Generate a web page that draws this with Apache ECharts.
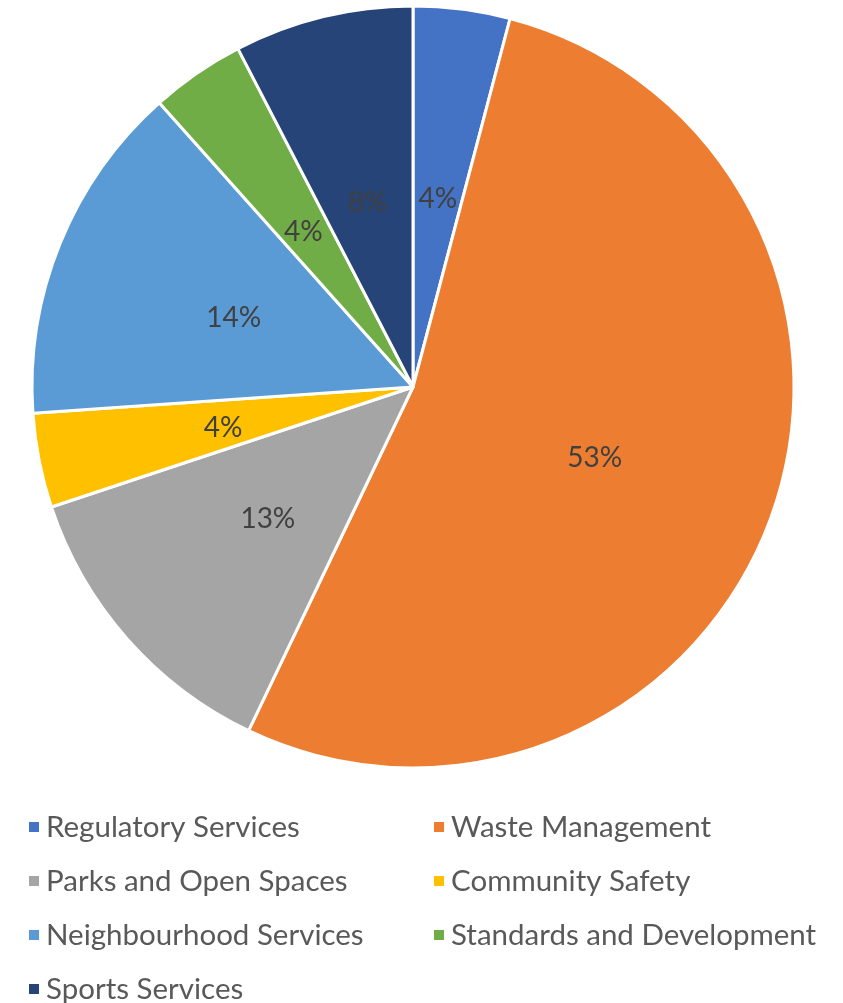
<!DOCTYPE html>
<html>
<head>
<meta charset="utf-8">
<script src="https://cdn.jsdelivr.net/npm/echarts@6/dist/echarts.min.js"></script>
<style>
  html, body { margin: 0; padding: 0; background: #fff; }
  #chart { width: 843px; height: 1003px; }
</style>
</head>
<body>
<div id="chart"></div>
<script>
// share of budget by service
var categories = [
  "Regulatory Services",
  "Waste Management",
  "Parks and Open Spaces",
  "Community Safety",
  "Neighbourhood Services",
  "Standards and Development",
  "Sports Services"
];
var values = [4.1, 53.0, 12.8, 4.0, 14.5, 4.0, 7.6];
var colors = ["#4472C4", "#ED7D31", "#A5A5A5", "#FFC000", "#5B9BD5", "#70AD47", "#264478"];

var leftCol = [categories[0], categories[2], categories[4], categories[6]];
var rightCol = [categories[1], categories[3], categories[5]];

var fontName = "Lato";

var pieData = categories.map(function(name, i) {
  return { name: name, value: values[i], itemStyle: { color: colors[i] } };
});

function legendAt(left, names) {
  return {
    orient: "vertical",
    left: left,
    top: 807,
    height: 260,
    itemWidth: 12,
    itemHeight: 12,
    itemGap: 24,
    icon: "rect",
    selectedMode: false,
    textStyle: {
      color: "#595959",
      fontFamily: fontName,
      fontSize: 29.5,
      lineHeight: 30,
      padding: [0, 0, 0, 1]
    },
    data: names
  };
}

var option = {
  animation: false,
  legend: [legendAt(22, leftCol), legendAt(427, rightCol)],
  series: [
    {
      type: "pie",
      center: [413, 387],
      radius: [0, 381],
      startAngle: 90,
      clockwise: true,
      percentPrecision: 0,
      itemStyle: {
        borderColor: "#fff",
        borderWidth: 3
      },
      label: {
        show: true,
        position: "inside",
        formatter: "{d}%",
        color: "#404040",
        fontFamily: fontName,
        fontSize: 28,
        offset: [0, 4]
      },
      labelLine: { show: false },
      emphasis: { disabled: true },
      data: pieData
    }
  ]
};

var myChart = echarts.init(document.getElementById("chart"));
myChart.setOption(option);
</script>
</body>
</html>
